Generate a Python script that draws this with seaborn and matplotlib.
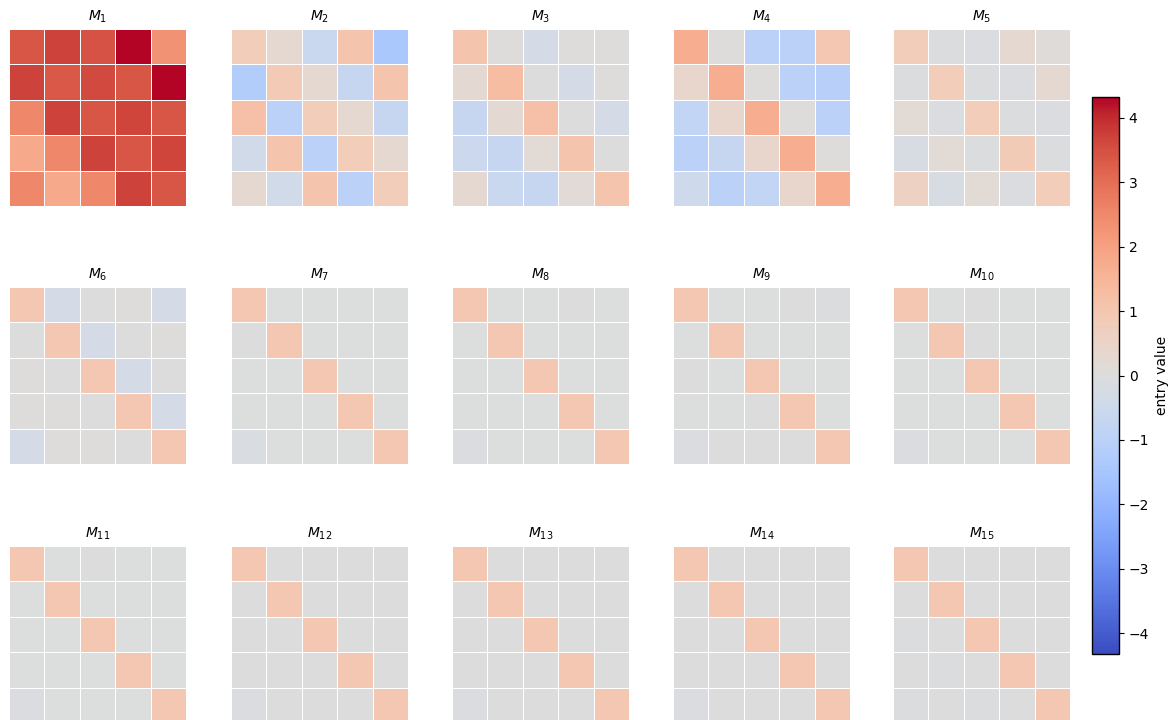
import numpy as np
import matplotlib
matplotlib.use("Agg")
import matplotlib.pyplot as plt
import seaborn as sns

# 15 matrices (5x5)
m1 = [[3.40, 3.70, 3.45, 4.32, 2.30],
      [3.70, 3.35, 3.60, 3.40, 4.30],
      [2.50, 3.70, 3.40, 3.65, 3.40],
      [1.80, 2.50, 3.70, 3.40, 3.65],
      [2.50, 1.80, 2.50, 3.70, 3.40]]
m2 = [[0.80, 0.30, -0.60, 1.10, -1.40],
      [-1.20, 0.90, 0.30, -0.70, 1.10],
      [1.20, -1.00, 0.80, 0.30, -0.70],
      [-0.40, 1.10, -1.00, 0.80, 0.30],
      [0.30, -0.40, 1.10, -1.00, 0.80]]
m3 = [[1.10, 0.05, -0.30, 0.05, 0.05],
      [0.25, 1.30, 0.00, -0.30, 0.05],
      [-0.70, 0.25, 1.20, 0.00, -0.30],
      [-0.55, -0.70, 0.20, 1.10, 0.00],
      [0.30, -0.60, -0.70, 0.15, 1.10]]
m4 = [[1.70, 0.05, -1.00, -1.00, 1.00],
      [0.40, 1.70, 0.05, -1.00, -1.10],
      [-0.80, 0.40, 1.70, 0.05, -1.00],
      [-1.00, -0.70, 0.40, 1.70, 0.05],
      [-0.45, -1.00, -0.80, 0.40, 1.70]]
m5 = [[0.80, -0.05, -0.10, 0.30, 0.10],
      [-0.05, 0.80, -0.05, -0.10, 0.30],
      [0.20, -0.10, 0.80, -0.05, -0.10],
      [-0.20, 0.20, -0.05, 0.85, -0.05],
      [0.60, -0.20, 0.20, -0.10, 0.80]]
m6 = [[1.00, -0.30, 0.00, 0.05, -0.30],
      [0.00, 1.00, -0.30, 0.00, 0.05],
      [0.05, 0.00, 1.00, -0.30, 0.00],
      [0.05, 0.05, 0.00, 1.00, -0.30],
      [-0.30, 0.05, 0.05, 0.00, 1.00]]
m7 = [[1.00, -0.02, -0.02, -0.02, -0.03],
      [0.00, 1.00, -0.02, -0.02, -0.02],
      [-0.02, -0.01, 1.00, -0.02, -0.02],
      [-0.01, -0.01, -0.01, 1.00, -0.02],
      [-0.12, -0.01, -0.01, -0.01, 1.00]]
m8 = [[1.00, -0.02, -0.02, 0.00, -0.01],
      [-0.01, 1.00, -0.02, -0.02, -0.01],
      [-0.01, -0.01, 1.00, -0.02, -0.02],
      [-0.01, -0.01, -0.01, 1.00, -0.02],
      [-0.10, -0.01, -0.01, -0.01, 1.00]]
m9 = [[1.00, -0.02, -0.01, 0.01, -0.05],
      [-0.01, 1.00, -0.02, -0.01, -0.02],
      [0.00, -0.01, 1.00, -0.02, -0.01],
      [-0.01, -0.01, 0.00, 1.00, -0.02],
      [-0.10, 0.01, 0.01, 0.00, 1.00]]
m10 = [[1.00, -0.01, 0.00, -0.01, -0.01],
       [-0.01, 1.00, 0.00, -0.01, -0.01],
       [-0.01, -0.01, 1.00, -0.01, -0.01],
       [-0.01, -0.01, -0.01, 1.00, -0.01],
       [-0.08, -0.01, -0.01, -0.01, 1.00]]
m11 = [[1.00, -0.01, 0.00, -0.01, -0.01],
       [-0.01, 1.00, -0.01, -0.01, -0.01],
       [-0.01, -0.01, 1.00, -0.01, -0.01],
       [-0.01, -0.01, -0.01, 1.00, -0.01],
       [-0.08, -0.01, -0.01, -0.01, 1.00]]
m12 = [[1.00, 0.02, 0.02, 0.01, 0.00],
       [0.00, 1.00, 0.02, 0.01, 0.00],
       [0.00, 0.00, 1.00, 0.02, 0.01],
       [0.00, 0.00, 0.00, 1.00, 0.02],
       [-0.08, 0.00, 0.01, 0.01, 1.00]]
m13 = [[1.00, 0.00, 0.00, 0.01, 0.00],
       [0.00, 1.00, 0.00, 0.01, 0.01],
       [0.00, 0.00, 1.00, 0.00, 0.01],
       [0.00, 0.00, 0.00, 1.00, 0.01],
       [-0.08, 0.00, 0.00, 0.00, 1.00]]
m14 = [[1.00, 0.02, 0.02, 0.01, 0.00],
       [0.00, 1.00, 0.02, 0.02, 0.01],
       [0.00, 0.00, 1.00, 0.02, 0.02],
       [0.00, 0.00, 0.00, 1.00, 0.02],
       [-0.08, 0.01, 0.01, 0.00, 1.00]]
m15 = [[1.00, 0.03, 0.03, 0.01, 0.00],
       [0.01, 1.00, 0.03, 0.02, 0.01],
       [-0.06, 0.00, 1.00, 0.03, 0.03],
       [0.03, -0.06, 0.02, 1.00, 0.03],
       [-0.06, 0.03, -0.06, 0.00, 1.00]]

matrices = [m1, m2, m3, m4, m5, m6, m7, m8, m9, m10, m11, m12, m13, m14, m15]
titles = [f"$M_{{{i + 1}}}$" for i in range(len(matrices))]

vmax = max(np.abs(np.array(m)).max() for m in matrices)
vmin = -vmax

W, H = 1174, 720
fig = plt.figure(figsize=(W / 100, H / 100), dpi=100)

lefts = [9, 231, 452, 673, 893]
tops = [29, 287, 546]
size = 177

for k, (mat, title) in enumerate(zip(matrices, titles)):
    r, c = divmod(k, 5)
    ax = fig.add_axes([lefts[c] / W, 1 - (tops[r] + size) / H, size / W, size / H])
    sns.heatmap(
        np.array(mat),
        ax=ax,
        cmap="coolwarm",
        vmin=vmin,
        vmax=vmax,
        cbar=False,
        linewidths=0.6,
        linecolor="white",
        xticklabels=False,
        yticklabels=False,
    )
    ax.set_title(title, fontsize=10)

# shared colorbar
cax = fig.add_axes([1092 / W, 1 - 654 / H, 27 / W, 557 / H])
cb = fig.colorbar(ax.collections[0], cax=cax)
cb.set_label("entry value", fontsize=10)
cb.set_ticks(range(-4, 5))
cb.ax.tick_params(labelsize=10)
cb.outline.set_linewidth(1.0)

fig.savefig("out.png", dpi=100)
